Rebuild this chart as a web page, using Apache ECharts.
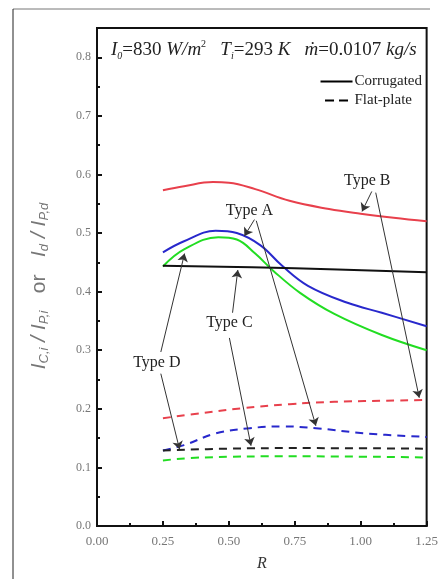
<!DOCTYPE html>
<html>
<head>
<meta charset="utf-8">
<script src="https://cdn.jsdelivr.net/npm/echarts@6/dist/echarts.min.js"></script>
<style>
    html, body { margin: 0; padding: 0; background: #fff; }
    #chart { width: 441px; height: 579px; }
</style>
</head>
<body>
<div id="chart"></div>
<script>
// R axis ticks
var xTicks = [0, 0.25, 0.5, 0.75, 1.0, 1.25];
var yTicks = [0, 0.1, 0.2, 0.3, 0.4, 0.5, 0.6, 0.7, 0.8];

// corrugated (solid)
var corrB = [[0.25, 0.573], [0.33, 0.580], [0.44, 0.587], [0.50, 0.586], [0.60, 0.575], [0.73, 0.555], [0.88, 0.541], [1.00, 0.533], [1.125, 0.526], [1.25, 0.520]];
var corrA = [[0.25, 0.467], [0.33, 0.486], [0.45, 0.504], [0.53, 0.500], [0.62, 0.479], [0.70, 0.445], [0.80, 0.410], [0.95, 0.381], [1.08, 0.364], [1.25, 0.341]];
var corrD = [[0.25, 0.443], [0.33, 0.472], [0.46, 0.493], [0.53, 0.489], [0.60, 0.465], [0.67, 0.435], [0.77, 0.398], [0.90, 0.362], [1.08, 0.326], [1.25, 0.300]];
var corrC = [[0.25, 0.444], [0.75, 0.440], [1.25, 0.433]];

// flat-plate (dashed)
var flatB = [[0.25, 0.184], [0.40, 0.193], [0.55, 0.201], [0.73, 0.208], [0.90, 0.212], [1.25, 0.215]];
var flatA = [[0.25, 0.129], [0.33, 0.138], [0.45, 0.158], [0.58, 0.167], [0.70, 0.170], [0.83, 0.167], [1.02, 0.158], [1.25, 0.152]];
var flatC = [[0.25, 0.129], [0.50, 0.132], [0.75, 0.133], [1.25, 0.132]];
var flatD = [[0.25, 0.112], [0.40, 0.117], [0.75, 0.119], [1.25, 0.117]];

// annotation labels and arrows (data coords)
var typeLabels = [['Type A', 0.578, 0.538], ['Type B', 1.025, 0.590], ['Type C', 0.502, 0.347], ['Type D', 0.227, 0.279]];
var typeArrows = [
    [[0.597, 0.523], [0.559, 0.495]],
    [[0.604, 0.521], [0.830, 0.171]],
    [[1.042, 0.571], [1.005, 0.537]],
    [[1.057, 0.569], [1.222, 0.219]],
    [[0.514, 0.364], [0.534, 0.437]],
    [[0.502, 0.321], [0.584, 0.137]],
    [[0.242, 0.297], [0.332, 0.465]],
    [[0.242, 0.260], [0.313, 0.131]]
];

var serif = '"Liberation Serif", "DejaVu Serif", serif';
var sans = '"Liberation Sans", Arial, sans-serif';

function curve(name, data, color, dashed) {
    return {
        name: name,
        type: 'line',
        data: data,
        smooth: 0.4,
        symbol: 'none',
        silent: true,
        itemStyle: { color: color },
        lineStyle: { color: color, width: 2, type: dashed ? [8, 6] : 'solid' }
    };
}

var myChart = echarts.init(document.getElementById('chart'));

// the black corrugated curve also carries the notes
var typeC = curve('C', corrC, '#111', false);
typeC.markLine = {
    silent: true,
    animation: false,
    symbol: ['none', 'arrow'],
    symbolSize: 8,
    label: { show: false },
    itemStyle: { color: '#222' },
    lineStyle: { color: '#333', width: 1, type: 'solid' },
    data: typeArrows.map(function(a) {
        return [{ coord: a[0] }, { coord: a[1] }];
    })
};
typeC.markPoint = {
    silent: true,
    symbol: 'rect',
    symbolSize: 0,
    data: typeLabels.map(function(t) {
        return {
            coord: [t[1], t[2]],
            label: {
                show: true,
                position: 'inside',
                formatter: t[0],
                fontFamily: serif,
                fontSize: 16,
                color: '#222'
            }
        };
    })
};

var series = [
    curve('B', corrB, '#e8404c', false),
    curve('A', corrA, '#2828cc', false),
    curve('D', corrD, '#22dd22', false),
    typeC,
    curve('Bf', flatB, '#e8404c', true),
    curve('Af', flatA, '#2828cc', true),
    curve('Cf', flatC, '#222', true),
    curve('Df', flatD, '#22dd22', true),
    // legend entries
    curve('Corrugated', [], '#000', false),
    curve('Flat-plate', [], '#000', true)
];

var option = {
    animation: false,
    backgroundColor: '#fff',
    grid: {
        left: 97, top: 28, right: 13, bottom: 53,
        show: true,
        borderColor: '#111',
        borderWidth: 2
    },
    title: {
        left: 106,
        top: 34,
        text: '{i|I}{sub|0}{n|=830 }{i|W/m}{sup|2}{n|   }{i|T}{sub|i}{n|=293 }{i|K   ṁ}{n|=0.0107 }{i|kg/s}',
        textStyle: {
            fontWeight: 'normal',
            rich: {
                i: { fontFamily: serif, fontStyle: 'italic', fontWeight: 'normal', fontSize: 19, color: '#222', lineHeight: 22 },
                n: { fontFamily: serif, fontWeight: 'normal', fontSize: 19, color: '#222', lineHeight: 22 },
                sub: { fontFamily: serif, fontStyle: 'italic', fontWeight: 'normal', fontSize: 10, color: '#222', lineHeight: 22, verticalAlign: 'bottom' },
                sup: { fontFamily: serif, fontWeight: 'normal', fontSize: 10, color: '#222', lineHeight: 22, verticalAlign: 'top' }
            }
        }
    },
    legend: {
        data: [
            { name: 'Corrugated', icon: 'rect' },
            { name: 'Flat-plate', icon: 'path://M0,0h9v2h-9zM14,0h9v2h-9z' }
        ],
        orient: 'vertical',
        right: 14,
        top: 69,
        itemWidth: 32,
        itemHeight: 2,
        itemGap: 4,
        selectedMode: false,
        itemStyle: { color: '#000' },
        textStyle: { fontFamily: serif, fontSize: 15, color: '#222', padding: [0, 0, 0, -3] }
    },
    xAxis: {
        type: 'value',
        min: 0,
        max: 1.25,
        interval: 0.25,
        name: 'R',
        nameLocation: 'middle',
        nameGap: 30,
        nameTextStyle: { fontFamily: serif, fontStyle: 'italic', fontSize: 16, color: '#333' },
        axisLine: { lineStyle: { color: '#111', width: 2 } },
        axisTick: { inside: true, length: 5, lineStyle: { color: '#111', width: 2 } },
        minorTick: { show: true, splitNumber: 2, length: 3, lineStyle: { color: '#111', width: 2 } },
        splitLine: { show: false },
        axisLabel: {
            margin: 9,
            fontFamily: serif,
            fontSize: 13,
            color: '#777',
            formatter: function(v) { return v.toFixed(2); }
        }
    },
    yAxis: {
        type: 'value',
        min: 0,
        max: 0.85,
        interval: 0.1,
        name: '{i|I}{s|C,i}{i| / I}{s|P,i}{n|   or   }{i|I}{s|d}{i| / I}{s|P,d}',
        nameLocation: 'middle',
        nameGap: 46,
        nameRotate: 90,
        nameTextStyle: {
            padding: [0, 18, 0, 0],
            rich: {
                i: { fontFamily: sans, fontStyle: 'italic', fontSize: 21, color: '#777', lineHeight: 24 },
                n: { fontFamily: sans, fontSize: 21, color: '#777', lineHeight: 24 },
                s: { fontFamily: sans, fontStyle: 'italic', fontSize: 13, color: '#777', lineHeight: 24, verticalAlign: 'bottom' }
            }
        },
        axisLine: { lineStyle: { color: '#111', width: 2 } },
        axisTick: { inside: true, length: 5, lineStyle: { color: '#111', width: 2 } },
        minorTick: { show: true, splitNumber: 2, length: 3, lineStyle: { color: '#111', width: 2 } },
        splitLine: { show: false },
        axisLabel: {
            margin: 6,
            showMaxLabel: false,
            fontFamily: serif,
            fontSize: 12,
            color: '#777',
            formatter: function(v) { return v.toFixed(1); }
        }
    },
    graphic: [
        // outer frame of the figure
        { type: 'line', shape: { x1: 13, y1: 9, x2: 430, y2: 9 }, style: { stroke: '#777', lineWidth: 1 } },
        { type: 'line', shape: { x1: 13, y1: 9, x2: 13, y2: 579 }, style: { stroke: '#222', lineWidth: 1 } }
    ],
    series: series
};

myChart.setOption(option);
</script>
</body>
</html>
